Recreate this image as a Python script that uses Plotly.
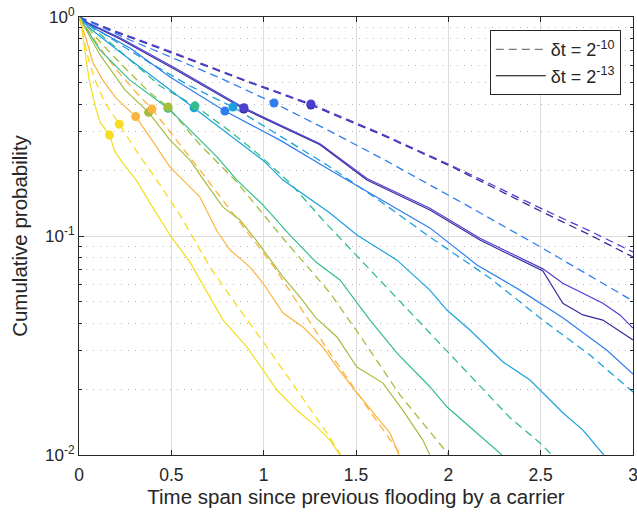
import plotly.graph_objects as go

# ---------------- data ----------------
# dashed curves (delta t = 2^-10)
xd_navy = [0, 0.168, 0.531, 0.899, 1.256, 1.630, 2.009, 2.155, 2.507, 2.767, 3.0]
yd_navy = [1.0, 0.873, 0.671, 0.511, 0.396, 0.292, 0.209, 0.181, 0.129, 0.101, 0.0802]
xd_violet = [0, 0.168, 0.531, 0.899, 1.256, 1.630, 2.009, 2.155, 2.507, 2.767, 3.0]
yd_violet = [1.0, 0.881, 0.678, 0.515, 0.401, 0.295, 0.211, 0.185, 0.133, 0.1054, 0.0845]
xd_blue = [0, 0.276, 0.509, 0.763, 1.056, 1.359, 1.657, 1.955, 2.117, 2.480, 2.805, 3.0]
yd_blue = [1.0, 0.785, 0.650, 0.527, 0.405, 0.301, 0.222, 0.162, 0.1355, 0.091, 0.063, 0.0505]
xd_azure = [0, 0.168, 0.384, 0.601, 0.834, 1.088, 1.343, 1.630, 1.900, 2.225, 2.512, 2.767, 3.0]
yd_azure = [1.0, 0.802, 0.617, 0.484, 0.388, 0.286, 0.211, 0.1445, 0.0989, 0.0643, 0.0413, 0.0286, 0.0194]
xd_teal = [0, 0.114, 0.276, 0.439, 0.628, 0.818, 0.964, 1.142, 1.321, 1.576, 1.846, 2.117, 2.334, 2.496, 2.561]
yd_teal = [1.0, 0.836, 0.637, 0.484, 0.393, 0.301, 0.239, 0.175, 0.1183, 0.070, 0.0405, 0.0232, 0.0148, 0.01135, 0.01]
xd_olive = [0, 0.114, 0.249, 0.374, 0.482, 0.655, 0.845, 0.980, 1.126, 1.267, 1.359, 1.538, 1.738, 2.003]
yd_olive = [1.0, 0.769, 0.585, 0.459, 0.388, 0.261, 0.180, 0.1315, 0.0929, 0.0678, 0.055, 0.0335, 0.0188, 0.01]
xd_orange = [0, 0.0596, 0.141, 0.222, 0.303, 0.395, 0.493, 0.655, 0.790, 0.926, 1.061, 1.180, 1.359, 1.559, 1.743]
yd_orange = [1.0, 0.845, 0.671, 0.550, 0.459, 0.380, 0.2985, 0.200, 0.1416, 0.101, 0.0714, 0.050, 0.0292, 0.0166, 0.01]
xd_yellow = [0, 0.0217, 0.0487, 0.0866, 0.141, 0.218, 0.314, 0.421, 0.547, 0.709, 0.872, 1.018, 1.170, 1.321, 1.419]
yd_yellow = [1.0, 0.828, 0.656, 0.515, 0.405, 0.324, 0.242, 0.180, 0.1247, 0.0721, 0.0459, 0.0311, 0.0205, 0.0134, 0.01]

# solid curves (delta t = 2^-13)
xs_navy = [0, 0.05, 0.222, 0.525, 0.893, 1.305, 1.559, 1.900, 2.171, 2.512, 2.620, 2.729, 2.837, 2.929, 3.0]
ys_navy = [1.0, 0.933, 0.794, 0.573, 0.380, 0.261, 0.180, 0.1315, 0.0959, 0.0692, 0.0493, 0.0436, 0.0413, 0.0368, 0.0335]
xs_violet = [0, 0.05, 0.222, 0.525, 0.893, 1.305, 1.559, 1.900, 2.171, 2.512, 2.620, 2.729, 2.837, 2.929, 3.0]
ys_violet = [1.0, 0.938, 0.804, 0.582, 0.385, 0.264, 0.183, 0.134, 0.0977, 0.0708, 0.0608, 0.0547, 0.0493, 0.0436, 0.038]
xs_blue = [0, 0.05, 0.276, 0.493, 0.790, 1.088, 1.359, 1.630, 1.900, 2.155, 2.388, 2.620, 2.859, 3.0]
ys_blue = [1.0, 0.92, 0.722, 0.532, 0.372, 0.274, 0.200, 0.1476, 0.1089, 0.0738, 0.0566, 0.0423, 0.0301, 0.0234]
xs_azure = [0, 0.05, 0.222, 0.525, 0.623, 0.709, 0.855, 0.996, 1.105, 1.359, 1.505, 1.722, 1.900, 1.992, 2.117,
            2.296, 2.442, 2.512, 2.620, 2.729, 2.842]
ys_azure = [1.0, 0.90, 0.692, 0.445, 0.385, 0.339, 0.274, 0.222, 0.180, 0.1274, 0.101, 0.0776, 0.0566, 0.0459, 0.0372,
            0.0266, 0.0220, 0.0192, 0.0156, 0.0130, 0.01]
xs_teal = [0, 0.114, 0.276, 0.482, 0.547, 0.655, 0.747, 0.855, 0.996, 1.142, 1.283, 1.413, 1.505, 1.576, 1.722,
           1.900, 1.992, 2.117, 2.290]
ys_teal = [1.0, 0.706, 0.515, 0.383, 0.339, 0.274, 0.2296, 0.180, 0.1387, 0.101, 0.076, 0.063, 0.0494, 0.0413, 0.0292,
           0.0205, 0.0166, 0.0134, 0.01]
xs_olive = [0, 0.114, 0.249, 0.377, 0.493, 0.601, 0.682, 0.780, 0.872, 0.958, 1.105, 1.197, 1.283, 1.397, 1.505,
            1.646, 1.754, 1.862, 1.900]
ys_olive = [1.0, 0.671, 0.4645, 0.367, 0.274, 0.222, 0.1766, 0.1355, 0.1183, 0.0959, 0.065, 0.0526, 0.0423, 0.0346,
            0.0252, 0.0213, 0.016, 0.0117, 0.01]
xs_orange = [0, 0.0379, 0.0742, 0.128, 0.200, 0.307, 0.384, 0.493, 0.563, 0.655, 0.747, 0.818, 0.926, 0.996, 1.105,
             1.213, 1.321, 1.397, 1.505, 1.592, 1.684, 1.733]
ys_orange = [1.0, 0.796, 0.623, 0.515, 0.427, 0.351, 0.283, 0.2065, 0.180, 0.1507, 0.1054, 0.0863, 0.0721, 0.061,
             0.0445, 0.0384, 0.0311, 0.0252, 0.0192, 0.0156, 0.0126, 0.01]
xs_yellow = [0, 0.0108, 0.0271, 0.0541, 0.092, 0.1137, 0.165, 0.195, 0.249, 0.314, 0.384, 0.493, 0.601, 0.688, 0.780,
             0.910, 0.996, 1.072, 1.180, 1.289, 1.359, 1.413]
ys_yellow = [1.0, 0.969, 0.745, 0.521, 0.380, 0.332, 0.289, 0.242, 0.209, 0.178, 0.1416, 0.101, 0.076, 0.0566, 0.0413,
             0.0311, 0.0244, 0.0198, 0.016, 0.0134, 0.0117, 0.01]

# marker dots (one on each dashed and each solid curve)
dot_dashed_x = [1.256, 1.256, 1.056, 0.834, 0.628, 0.482, 0.395, 0.218]
dot_dashed_y = [0.396, 0.401, 0.405, 0.388, 0.393, 0.388, 0.380, 0.324]
dot_solid_x = [0.893, 0.893, 0.790, 0.623, 0.482, 0.377, 0.307, 0.165]
dot_solid_y = [0.380, 0.385, 0.372, 0.385, 0.383, 0.367, 0.351, 0.289]

group_colors = ["#3a2b9c", "#4a3fcf", "#2f7eef", "#1aa1dd", "#33bd8c", "#a4be3b", "#fbb43f", "#f5dd22"]

x_ticks = [0, 0.5, 1, 1.5, 2, 2.5, 3]
x_ticklabels = ["0", "0.5", "1", "1.5", "2", "2.5", "3"]
y_ticks = [0.01, 0.1, 1]
y_ticklabels = ["10<sup>-2</sup>", "10<sup>-1</sup>", "10<sup>0</sup>"]
y_minor = [0.02, 0.03, 0.04, 0.05, 0.06, 0.07, 0.08, 0.09, 0.2, 0.3, 0.4, 0.5, 0.6, 0.7, 0.8, 0.9]
legend_labels = ["\u03b4t = 2<sup>-10</sup>", "\u03b4t = 2<sup>-13</sup>"]

# ---------------- figure ----------------
dashed = [(xd_navy, yd_navy), (xd_violet, yd_violet), (xd_blue, yd_blue), (xd_azure, yd_azure),
          (xd_teal, yd_teal), (xd_olive, yd_olive), (xd_orange, yd_orange), (xd_yellow, yd_yellow)]
solid = [(xs_navy, ys_navy), (xs_violet, ys_violet), (xs_blue, ys_blue), (xs_azure, ys_azure),
         (xs_teal, ys_teal), (xs_olive, ys_olive), (xs_orange, ys_orange), (xs_yellow, ys_yellow)]

fig = go.Figure()
for i, (xx, yy) in enumerate(dashed):
    fig.add_trace(go.Scatter(x=xx, y=yy, mode="lines", showlegend=False, hoverinfo="skip",
                             line=dict(color=group_colors[i], width=1.3, dash="8px,5px")))
for i, (xx, yy) in enumerate(solid):
    fig.add_trace(go.Scatter(x=xx, y=yy, mode="lines", showlegend=False, hoverinfo="skip",
                             line=dict(color=group_colors[i], width=1.2)))
for i in range(len(group_colors)):
    fig.add_trace(go.Scatter(x=[dot_dashed_x[i], dot_solid_x[i]], y=[dot_dashed_y[i], dot_solid_y[i]],
                             mode="markers", showlegend=False, hoverinfo="skip",
                             marker=dict(color=group_colors[i], size=9, line=dict(width=0))))

# legend entries
fig.add_trace(go.Scatter(x=[None], y=[None], mode="lines", name=legend_labels[0],
                         line=dict(color="#7a7a7a", width=1.3, dash="8px,5px")))
fig.add_trace(go.Scatter(x=[None], y=[None], mode="lines", name=legend_labels[1],
                         line=dict(color="#000000", width=1.2)))

axis_col = "#262626"
fig.update_layout(
    template="none",
    width=637, height=513,
    margin=dict(l=79, r=4, t=17, b=58, autoexpand=False),
    paper_bgcolor="white", plot_bgcolor="white",
    font=dict(family="Liberation Sans, Arial, sans-serif", size=17, color=axis_col),
    showlegend=True,
    legend=dict(x=0.978, y=0.97, xanchor="right", yanchor="top", bgcolor="white",
                bordercolor=axis_col, borderwidth=1, font=dict(size=18), itemwidth=50,
                tracegroupgap=0),
    xaxis=dict(range=[0, 3], tickmode="array", tickvals=x_ticks, ticktext=x_ticklabels,
               ticks="inside", ticklen=5, tickcolor=axis_col, showline=True, linecolor=axis_col,
               linewidth=1, mirror="ticks", showgrid=True, gridcolor="#dcdcdc", gridwidth=1,
               zeroline=False, tickfont=dict(size=17.5), automargin=False, ticklabeloverflow="allow",
               ticklabelstandoff=4,
               title=dict(text="Time span since previous flooding by a carrier", font=dict(size=20.5), standoff=1)),
    yaxis=dict(type="log", range=[-2, 0], tickmode="array", tickvals=y_ticks, ticktext=y_ticklabels,
               ticks="inside", ticklen=5, tickcolor=axis_col, showline=True, linecolor=axis_col,
               linewidth=1, mirror="ticks", showgrid=True, gridcolor="#dcdcdc", gridwidth=1,
               zeroline=False, tickfont=dict(size=17), automargin=False, ticklabeloverflow="allow",
               minor=dict(tickmode="array", tickvals=y_minor, ticks="inside", ticklen=3, tickcolor=axis_col,
                          showgrid=True, gridcolor="#b8b8b8", griddash="1px,6px", gridwidth=1),
               title=dict(text="Cumulative probability", font=dict(size=20.5), standoff=11)),
)

fig.write_html("out.html", config={"displayModeBar": False},
               post_script="document.body.style.margin='0';")
